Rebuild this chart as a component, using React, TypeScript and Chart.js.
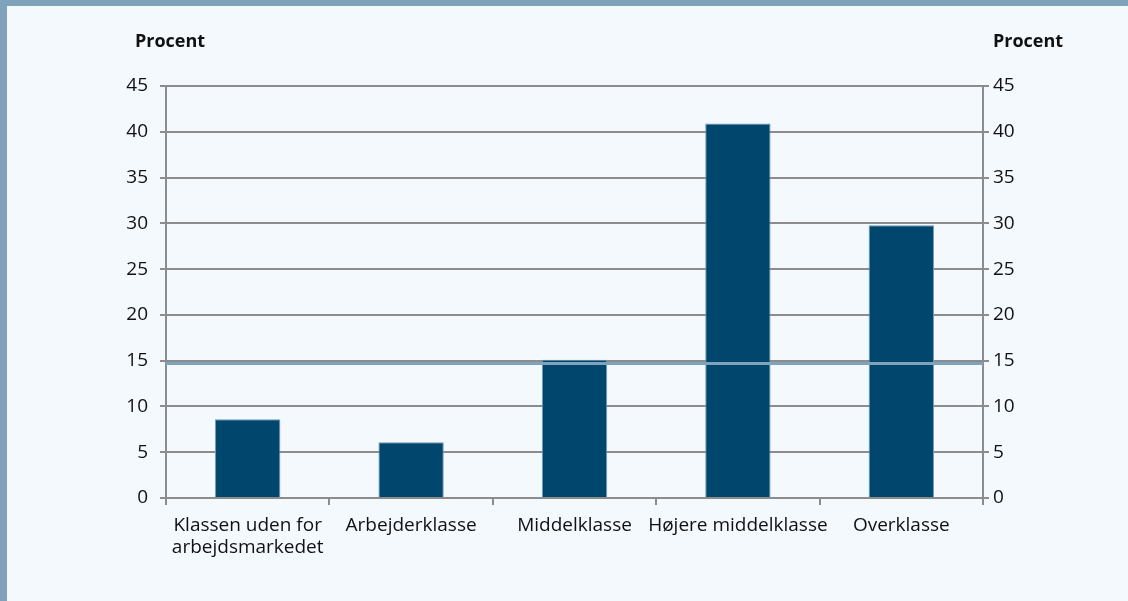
import React, { useEffect, useRef } from "react";
import { Chart, registerables } from "chart.js";

Chart.register(...registerables);

const categories: (string | string[])[] = [
  ["Klassen uden for", "arbejdsmarkedet"],
  "Arbejderklasse",
  "Middelklasse",
  "Højere middelklasse",
  "Overklasse",
];
const shareValues: number[] = [8.6, 6.1, 15.1, 40.9, 29.8];
const averageValue = 14.7;
const yTicks: number[] = [0, 5, 10, 15, 20, 25, 30, 35, 40, 45];
const axisTitle = "Procent";

const FONT = "'Open Sans', 'Noto Sans', sans-serif";

export default function App() {
  const canvasRef = useRef<HTMLCanvasElement | null>(null);

  useEffect(() => {
    document.body.style.margin = "0";
    const canvas = canvasRef.current;
    if (!canvas) return;

    const refLinePlugin = {
      id: "refLine",
      afterDatasetsDraw(chart: any) {
        const { ctx, chartArea, scales } = chart;
        const y = scales.y.getPixelForValue(averageValue);
        ctx.save();
        ctx.strokeStyle = "#7fa3bb";
        ctx.lineWidth = 3;
        ctx.beginPath();
        ctx.moveTo(chartArea.left, y);
        ctx.lineTo(chartArea.right, y);
        ctx.stroke();
        ctx.restore();
      },
      afterDraw(chart: any) {
        const { ctx, chartArea } = chart;
        ctx.save();
        ctx.fillStyle = "#111";
        ctx.font = `bold 18px ${FONT}`;
        ctx.textAlign = "center";
        ctx.textBaseline = "middle";
        ctx.fillText(axisTitle, chartArea.left + 4, 36);
        ctx.fillText(axisTitle, chartArea.right + 45, 36);
        ctx.restore();
      },
    };

    const chart = new Chart(canvas, {
      type: "bar",
      data: {
        labels: categories,
        datasets: [
          {
            data: shareValues,
            backgroundColor: "#01466d",
            borderColor: "#6f9bbb",
            borderWidth: 1,
            barPercentage: 0.4,
            categoryPercentage: 1,
          },
        ],
      },
      options: {
        animation: false,
        responsive: false,
        maintainAspectRatio: false,
        layout: { padding: { top: 80, left: 0, right: 0, bottom: 0 } },
        plugins: {
          legend: { display: false },
          tooltip: { enabled: false },
          title: { display: false },
        },
        scales: {
          x: {
            type: "category",
            offset: true,
            grid: {
              offset: true,
              drawOnChartArea: false,
              drawTicks: true,
              tickLength: 7,
              color: "#8c8c8c",
              lineWidth: 2,
            },
            border: { display: true, color: "#8c8c8c", width: 2 },
            ticks: {
              color: "#111",
              font: { family: FONT, size: 19, lineHeight: 1.15 },
              maxRotation: 0,
              autoSkip: false,
              padding: 10,
            },
            afterFit: (scale: any) => {
              scale.height = 103;
            },
          },
          y: {
            position: "left",
            min: 0,
            max: 45,
            afterBuildTicks: (scale: any) => {
              scale.ticks = yTicks.map((v) => ({ value: v }));
            },
            grid: {
              drawOnChartArea: true,
              drawTicks: true,
              tickLength: 6,
              color: "#8c8c8c",
              lineWidth: 2,
            },
            border: { display: true, color: "#8c8c8c", width: 2 },
            ticks: {
              color: "#111",
              font: { family: FONT, size: 19 },
              padding: 12,
            },
            afterFit: (scale: any) => {
              scale.width = 159;
            },
          },
          y2: {
            position: "right",
            min: 0,
            max: 45,
            afterBuildTicks: (scale: any) => {
              scale.ticks = yTicks.map((v) => ({ value: v }));
            },
            grid: {
              drawOnChartArea: false,
              drawTicks: true,
              tickLength: 6,
              color: "#8c8c8c",
              lineWidth: 2,
            },
            border: { display: true, color: "#8c8c8c", width: 2 },
            ticks: {
              color: "#111",
              font: { family: FONT, size: 19 },
              padding: 4,
            },
            afterFit: (scale: any) => {
              scale.width = 145;
            },
          },
        },
      },
      plugins: [refLinePlugin],
    });

    return () => chart.destroy();
  }, []);

  return (
    <div
      style={{
        position: "absolute",
        left: 0,
        top: 0,
        width: 1128,
        height: 601,
        background: "#7fa3bb",
        overflow: "hidden",
      }}
    >
      <div
        style={{
          position: "absolute",
          left: 7,
          top: 6,
          width: 1121,
          height: 595,
          background: "#f4f9fd",
        }}
      >
        <canvas
          ref={canvasRef}
          width={1121}
          height={595}
          style={{ display: "block", width: 1121, height: 595 }}
        />
      </div>
    </div>
  );
}
